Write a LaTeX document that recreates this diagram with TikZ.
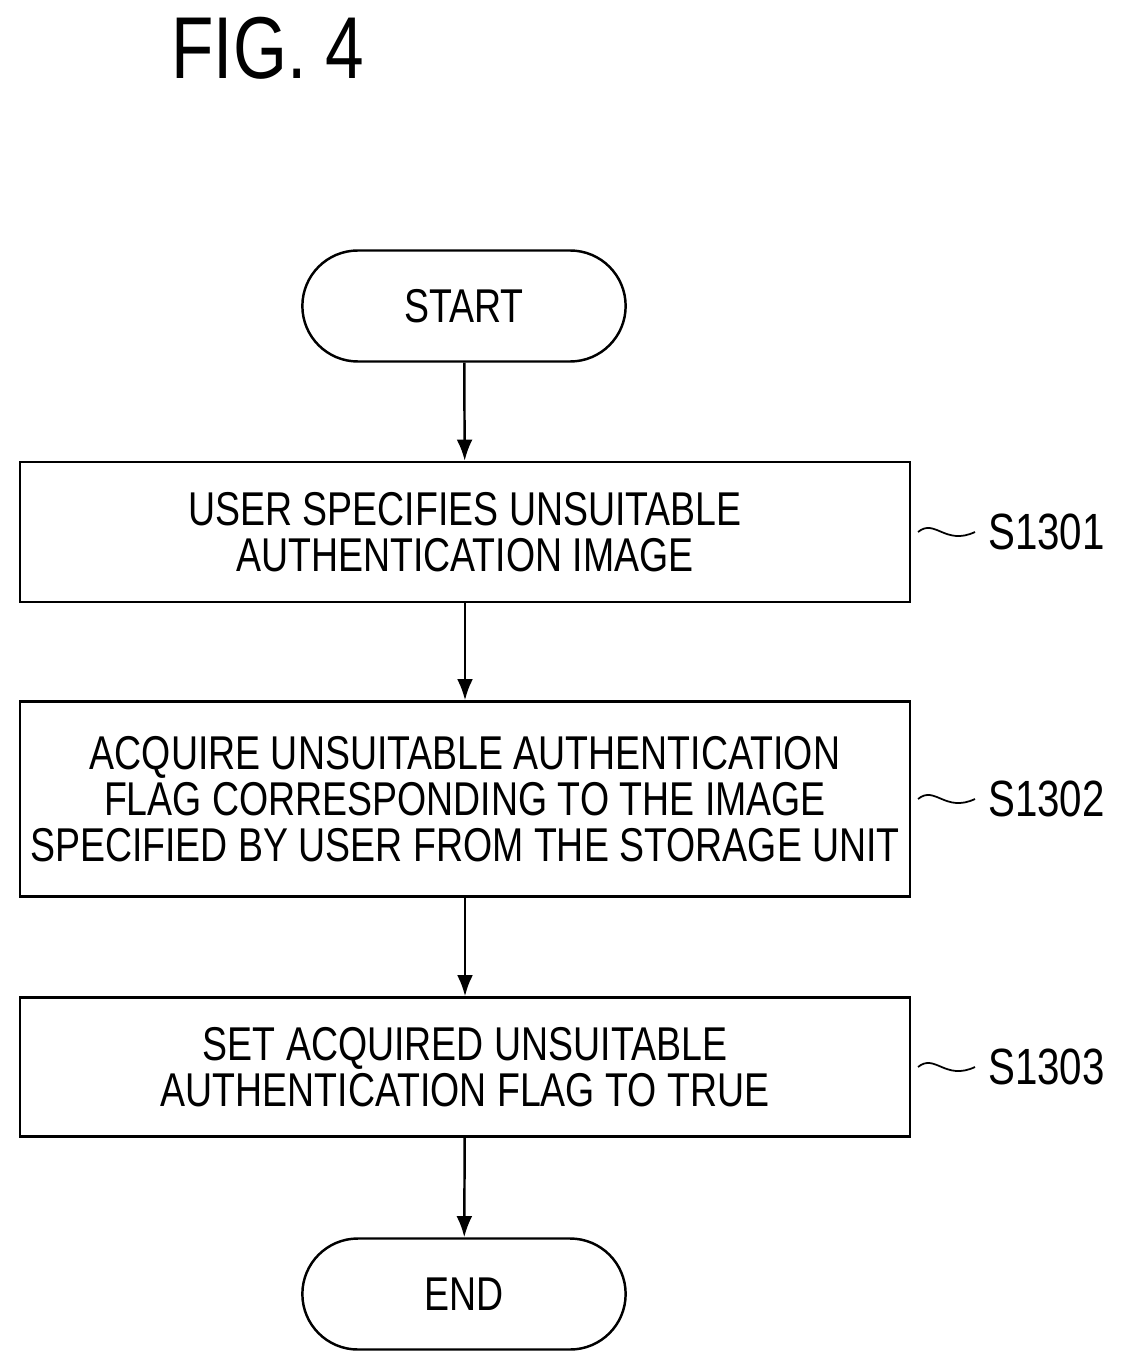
\documentclass[tikz,border=0pt]{standalone}
\usepackage{fontspec}
\setmainfont[FakeStretch=0.79]{Liberation Sans}
\usetikzlibrary{shapes.misc,arrows.meta}
\begin{document}
\begin{tikzpicture}[x=0.02cm,y=-0.02cm,
  every node/.style={font=\fontsize{27}{26}\selectfont},
  term/.style={draw,line width=1.4pt,rounded rectangle,minimum width=335*0.02cm,minimum height=111*0.02cm},
  proc/.style={draw,line width=1.4pt,minimum width=890*0.02cm,align=center},
  flow/.style={-{Latex[length=12pt,width=9pt]},line width=1.4pt}]
 \useasboundingbox (0,0) rectangle (1145,1371);
 \node[font=\fontsize{50}{50}\selectfont] (fig) at (268,48) {FIG. 4};
 \node[term] (start) at (464,306) {START};
 \node[proc,minimum height=140*0.02cm] (s1) at (465,532) {USER SPECIFIES UNSUITABLE\\AUTHENTICATION IMAGE};
 \node[proc,minimum height=195*0.02cm] (s2) at (465,799) {ACQUIRE UNSUITABLE AUTHENTICATION\\FLAG CORRESPONDING TO THE IMAGE\\SPECIFIED BY USER FROM THE STORAGE UNIT};
 \node[proc,minimum height=139*0.02cm] (s3) at (465,1067) {SET ACQUIRED UNSUITABLE\\AUTHENTICATION FLAG TO TRUE};
 \node[term] (end) at (464,1294) {END};
 \draw[flow] (start) -- (s1);
 \draw[flow] (s1) -- (s2);
 \draw[flow] (s2) -- (s3);
 \draw[flow] (s3) -- (end);
 % step labels
 \foreach \n/\y/\t in {s1/532/S1301,s2/799/S1302,s3/1067/S1303}{
  \node[anchor=west,font=\fontsize{29}{29}\selectfont] (l\n) at (982,\y) {\t};
  \draw[line width=1pt] (918,\y) .. controls (935,\y-14) and (945,\y+14) .. (975,\y);
 }
\end{tikzpicture}
\end{document}
